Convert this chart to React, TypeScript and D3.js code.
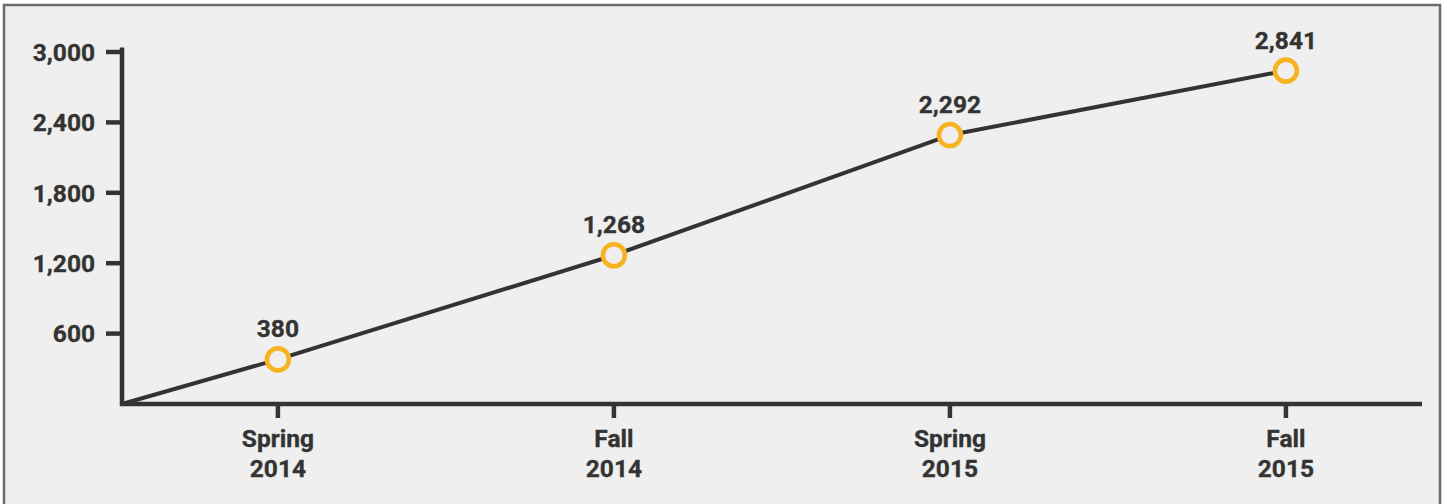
import React from "react";
import * as d3 from "d3";

const seasons = ["Spring", "Fall", "Spring", "Fall"];
const years = ["2014", "2014", "2015", "2015"];
const values = [380, 1268, 2292, 2841];
const yTicks = [600, 1200, 1800, 2400, 3000];
const startValue = 0;

const W = 1447;
const H = 504;
const FONT = "Roboto, 'Liberation Sans', Arial, sans-serif";
const DARK = "#333333";
const ORANGE = "#F8B320";
const BG = "#efefef";
const FS = 24.5;

export default function App() {
  // index domain: origin sits before the first category
  const x = d3.scaleLinear().domain([-0.464, 3.405]).range([122, 1422]);
  const y = d3.scaleLinear().domain([0, 3000]).range([404, 52]);

  const pts: [number, number][] = [[-0.464, startValue], ...values.map((v, i) => [i, v] as [number, number])];
  const line = d3
    .line<[number, number]>()
    .x((d) => x(d[0]))
    .y((d) => y(d[1]));

  const fmt = d3.format(",");
  const x0 = x.range()[0];
  const x1 = x.range()[1];
  const y0 = y(0);
  const textProps = {
    fontFamily: FONT,
    fontWeight: 700,
    fontSize: FS,
    fill: DARK,
    stroke: DARK,
    strokeWidth: 0.35,
  };

  return (
    <div style={{ position: "fixed", left: 0, top: 0, width: W, height: H, background: "#fff" }}>
      <svg width={W} height={H} style={{ display: "block" }}>
        <rect x={4} y={5} width={1436} height={H + 10} fill={BG} stroke="#6a6a6a" strokeWidth={2.5} />
        {/* line */}
        <path d={line(pts) || ""} fill="none" stroke={DARK} strokeWidth={4} strokeLinejoin="round" />
        {/* y axis */}
        <line x1={x0} x2={x0} y1={y(3000) - 4.5} y2={y0 + 2} stroke={DARK} strokeWidth={4.5} />
        {yTicks.map((t) => (
          <g key={t}>
            <line x1={106} x2={x0} y1={y(t)} y2={y(t)} stroke={DARK} strokeWidth={4.5} />
            <text x={95} y={y(t)} dy="0.36em" textAnchor="end" {...textProps}>
              {fmt(t)}
            </text>
          </g>
        ))}
        {/* x axis */}
        <line x1={x0 - 2} x2={x1} y1={y0} y2={y0} stroke={DARK} strokeWidth={4.5} />
        {values.map((_, i) => (
          <g key={i}>
            <line x1={x(i)} x2={x(i)} y1={y0} y2={y0 + 14} stroke={DARK} strokeWidth={4.5} />
            <text x={x(i)} y={447} textAnchor="middle" {...textProps}>
              {seasons[i]}
            </text>
            <text x={x(i)} y={477} textAnchor="middle" {...textProps}>
              {years[i]}
            </text>
          </g>
        ))}
        {/* points */}
        {values.map((v, i) => (
          <g key={"p" + i}>
            <circle cx={x(i)} cy={y(v)} r={11} fill={BG} stroke={ORANGE} strokeWidth={4.6} />
            <text x={x(i)} y={y(v) - 22} textAnchor="middle" {...textProps}>
              {fmt(v)}
            </text>
          </g>
        ))}
      </svg>
    </div>
  );
}
